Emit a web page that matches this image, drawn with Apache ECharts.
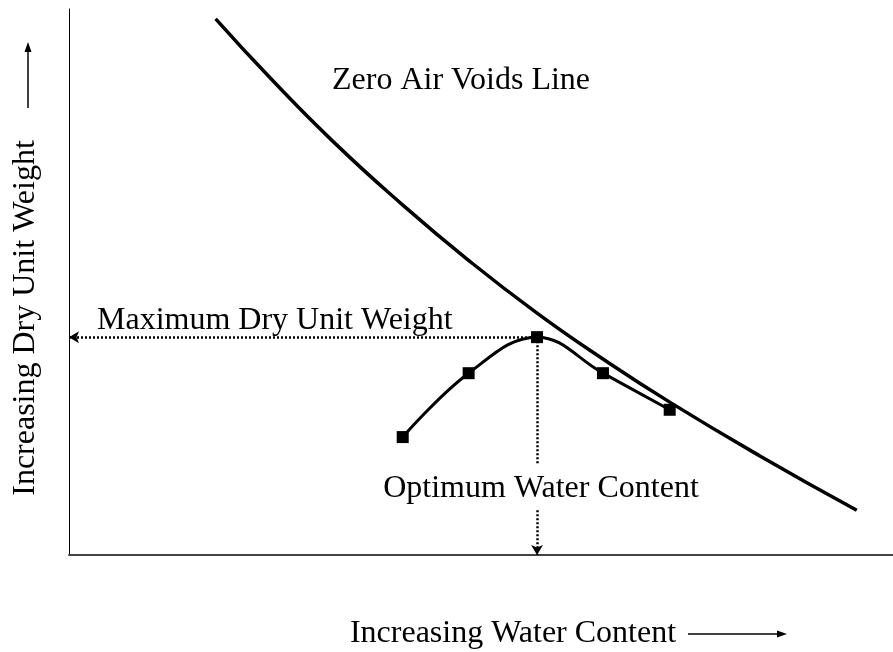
<!DOCTYPE html>
<html>
<head>
<meta charset="utf-8">
<title>Compaction Curve</title>
<script src="https://cdn.jsdelivr.net/npm/echarts@6.0.0/dist/echarts.min.js"></script>
<style>
  html, body { margin: 0; padding: 0; background: #fff; }
  #chart { width: 893px; height: 652px; }
</style>
</head>
<body>
<div id="chart"></div>
<script>
// compaction test points (relative units, the axes carry no ticks)
var waterContent = [40.5, 48.5, 56.8, 64.8, 72.9]
var dryUnitWeight = [21.6, 33.3, 39.9, 33.3, 26.6]

// zero air voids line
var zavWater = [17.8, 24.4, 32.0, 40.2, 48.3, 56.8, 64.8, 72.9, 83.9, 95.6]
var zavWeight = [98.2, 87.4, 75.8, 64.5, 54.2, 44.3, 35.9, 28.0, 18.1, 8.2]

// peak of the compaction curve
var optimumWater = 56.8
var maxDryWeight = 39.9

var FONT = '"Liberation Serif", "Times New Roman", serif'

function pairs(xs, ys) {
  return xs.map(function (x, i) { return [x, ys[i]] })
}

var chart = echarts.init(document.getElementById('chart'))

var option = {
  animation: false,
  backgroundColor: '#fff',
  grid: {
    left: 69,
    right: 0,
    top: 9,
    bottom: 97,
    containLabel: false,
    outerBoundsMode: 'none'
  },
  xAxis: {
    type: 'value',
    min: 0,
    max: 100,
    name: 'Increasing Water Content',
    nameLocation: 'middle',
    nameGap: 63,
    nameTextStyle: {
      fontFamily: FONT,
      fontSize: 32,
      color: '#000',
      padding: [0, 0, 0, 64]
    },
    axisLine: { show: true, lineStyle: { color: '#444', width: 2 } },
    axisTick: { show: false },
    axisLabel: { show: false },
    splitLine: { show: false }
  },
  yAxis: {
    type: 'value',
    min: 0,
    max: 100,
    name: 'Increasing Dry Unit Weight',
    nameLocation: 'middle',
    nameGap: 27,
    nameTextStyle: {
      fontFamily: FONT,
      fontSize: 32,
      color: '#000',
      padding: [0, 72, 0, 0]
    },
    axisLine: { show: true, lineStyle: { color: '#000', width: 1 } },
    axisTick: { show: false },
    axisLabel: { show: false },
    splitLine: { show: false }
  },
  series: [
    {
      name: 'Zero Air Voids Line',
      type: 'line',
      smooth: true,
      showSymbol: false,
      silent: true,
      data: pairs(zavWater, zavWeight),
      lineStyle: { color: '#000', width: 3.5 }
    },
    {
      name: 'Compaction Curve',
      type: 'line',
      smooth: 0.4,
      symbol: 'rect',
      symbolSize: 12,
      silent: true,
      z: 3,
      data: pairs(waterContent, dryUnitWeight),
      itemStyle: { color: '#000' },
      lineStyle: { color: '#000', width: 3 },
      markLine: {
        silent: true,
        symbol: ['none', 'none'],
        symbolSize: [9, 10],
        label: { show: false },
        lineStyle: { color: '#000', type: [2, 2], width: 2.5 },
        data: [
          [{ coord: [0, maxDryWeight], symbol: 'arrow' }, { coord: [optimumWater, maxDryWeight] }],
          [{ coord: [optimumWater, maxDryWeight] }, { coord: [optimumWater, 16.8] }],
          [{ coord: [optimumWater, 8.2] }, { coord: [optimumWater, 0], symbol: 'arrow' }]
        ]
      }
    }
  ],
  graphic: [
    {
      type: 'text', x: 332, y: 81,
      style: { text: 'Zero Air Voids Line', font: '32px ' + FONT, fill: '#000', align: 'left', verticalAlign: 'middle' }
    },
    {
      type: 'text', x: 97, y: 321,
      style: { text: 'Maximum Dry Unit Weight', font: '32px ' + FONT, fill: '#000', align: 'left', verticalAlign: 'middle' }
    },
    {
      type: 'text', x: 541, y: 489,
      style: { text: 'Optimum Water Content', font: '32px ' + FONT, fill: '#000', align: 'center', verticalAlign: 'middle' }
    },
    // arrows next to the axis names
    { type: 'line', shape: { x1: 688, y1: 634, x2: 780, y2: 634 }, style: { stroke: '#000', lineWidth: 1.5 } },
    { type: 'polygon', shape: { points: [[787, 634], [777, 630.5], [777, 637.5]] }, style: { fill: '#000' } },
    { type: 'line', shape: { x1: 28, y1: 108, x2: 28, y2: 50 }, style: { stroke: '#000', lineWidth: 1.5 } },
    { type: 'polygon', shape: { points: [[28, 42], [24.5, 52], [31.5, 52]] }, style: { fill: '#000' } }
  ]
}

chart.setOption(option)
</script>
</body>
</html>
